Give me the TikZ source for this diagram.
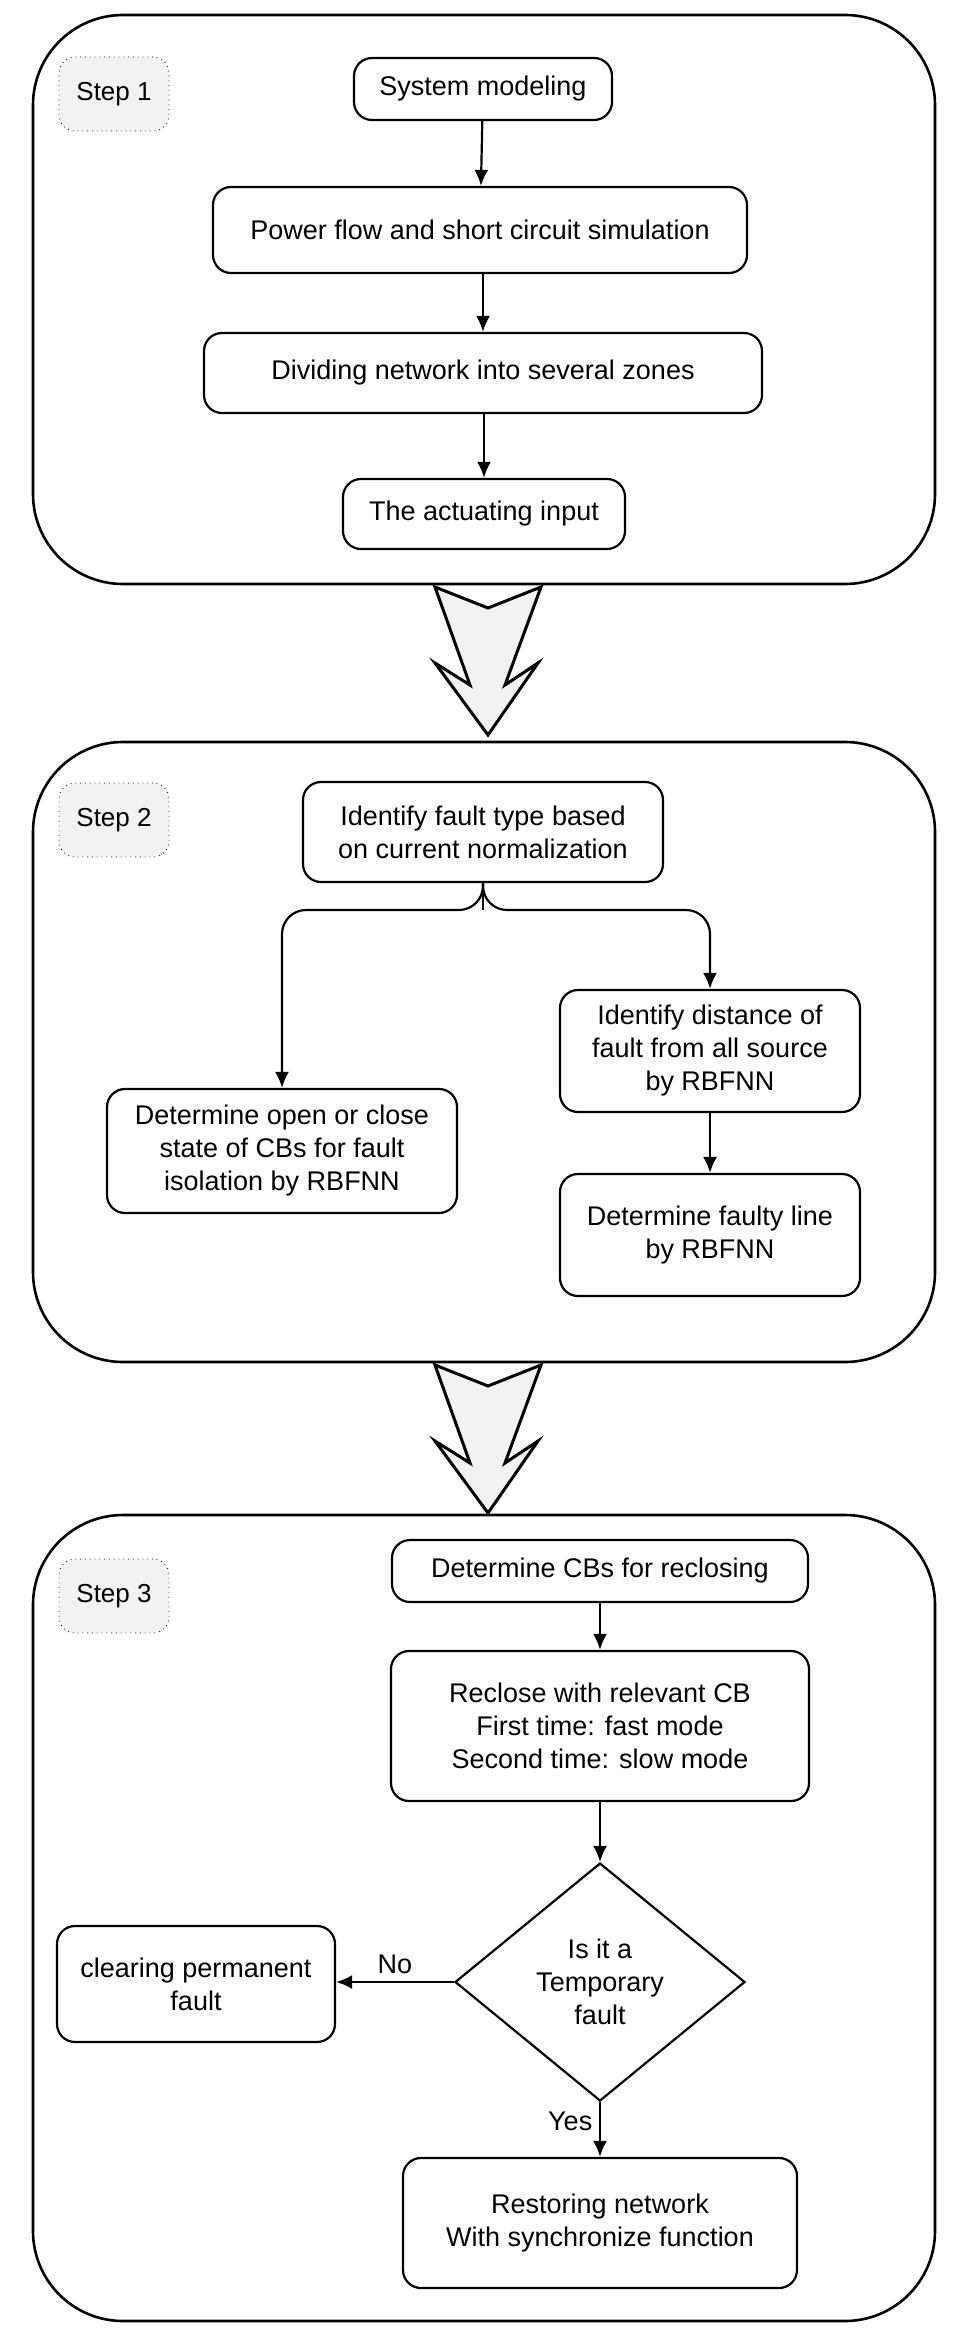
\documentclass[tikz,border=0pt]{standalone}
\usepackage{fontspec}
\setmainfont{Liberation Sans}
\usetikzlibrary{shapes.geometric,arrows.meta}
\begin{document}
\begin{tikzpicture}[x=0.5pt,y=-0.5pt,
  outer/.style={draw,line width=1.3pt,rounded corners=45pt},
  lbl/.style={draw,dotted,rounded corners=8pt,fill=gray!10,minimum width=55pt,minimum height=37pt,font=\fontsize{13}{15}\selectfont},
  bx/.style={draw,line width=1.1pt,rounded corners=9pt,align=center,font=\fontsize{13.5}{16.5}\selectfont,inner sep=2pt},
  arr/.style={-{Latex[length=8pt,width=7pt]},line width=1.1pt},
  bigarr/.style={draw,line width=1.5pt,fill=gray!10,line join=miter}]
\useasboundingbox (0,0) rectangle (965,2338);
% boxes
\draw[outer] (33,15) rectangle (935,584);
\draw[outer] (33,742) rectangle (935,1362);
\draw[outer] (33,1515) rectangle (935,2321);
\node[lbl] (s1) at (114,94) {Step 1};
\node[lbl] (s2) at (114,820) {Step 2};
\node[lbl] (s3) at (114,1596) {Step 3};
% big arrows
\foreach \y in {587,1365}{
\draw[bigarr] (435,\y) -- (488,\y+21) -- (541,\y) -- (505,\y+98) -- (538,\y+76) -- (488,\y+148) -- (435,\y+76) -- (470,\y+98) -- cycle;}
% step 1
\node[bx,minimum width=129pt,minimum height=31pt] (a) at (483,89) {System modeling};
\node[bx,minimum width=267pt,minimum height=43pt] (b) at (480,230) {Power flow and short circuit simulation};
\node[bx,minimum width=279pt,minimum height=40pt] (c) at (483,373) {Dividing network into several zones};
\node[bx,minimum width=141pt,minimum height=35pt] (d) at (484,514) {The actuating input};
\draw[arr] (a) -- (b);
\draw[arr] (b.south -| c) -- (c);
\draw[arr] (c.south -| d) -- (d);
% step 2
\node[bx,minimum width=180pt,minimum height=50pt] (e) at (483,832) {Identify fault type based\\on current normalization};
\node[bx,minimum width=175pt,minimum height=62pt] (f) at (282,1151) {Determine open or close\\state of CBs for fault\\isolation by RBFNN};
\node[bx,minimum width=150pt,minimum height=61pt] (g) at (710,1051) {Identify distance of\\fault from all source\\by RBFNN};
\node[bx,minimum width=150pt,minimum height=61pt] (h) at (710,1235) {Determine faulty line\\by RBFNN};
\coordinate (j) at (483,910);
\draw[line width=1.1pt] (e.south) -- (j);
\draw[arr,rounded corners=12pt] (e.south) |- (282,910) -- (f.north);
\draw[arr,rounded corners=12pt] (e.south) |- (710,910) -- (g.north);
\draw[arr] (g) -- (h);
% step 3
\node[bx,minimum width=208pt,minimum height=31pt] (k) at (600,1571) {Determine CBs for reclosing};
\node[bx,minimum width=209pt,minimum height=75pt] (l) at (600,1726) {Reclose with relevant CB\\First time: fast mode\\Second time: slow mode};
\node[draw,line width=1.1pt,diamond,aspect=1.22,minimum width=145pt,minimum height=119pt,inner sep=0pt,align=center,font=\fontsize{13.5}{16.5}\selectfont] (m) at (600,1982) {Is it a\\Temporary\\fault};
\node[bx,minimum width=139pt,minimum height=58pt] (n) at (196,1984) {clearing permanent\\fault};
\node[bx,minimum width=197pt,minimum height=65pt] (o) at (600,2223) {Restoring network\\With synchronize function};
\draw[arr] (k) -- (l);
\draw[arr] (l) -- (m);
\draw[arr] (m.west) -- node[above,font=\fontsize{13.5}{16}\selectfont]{No} (n.east |- m.west);
\draw[arr] (m.south) -- node[left,pos=0.35,font=\fontsize{13.5}{16}\selectfont]{Yes} (o);
\end{tikzpicture}
\end{document}
